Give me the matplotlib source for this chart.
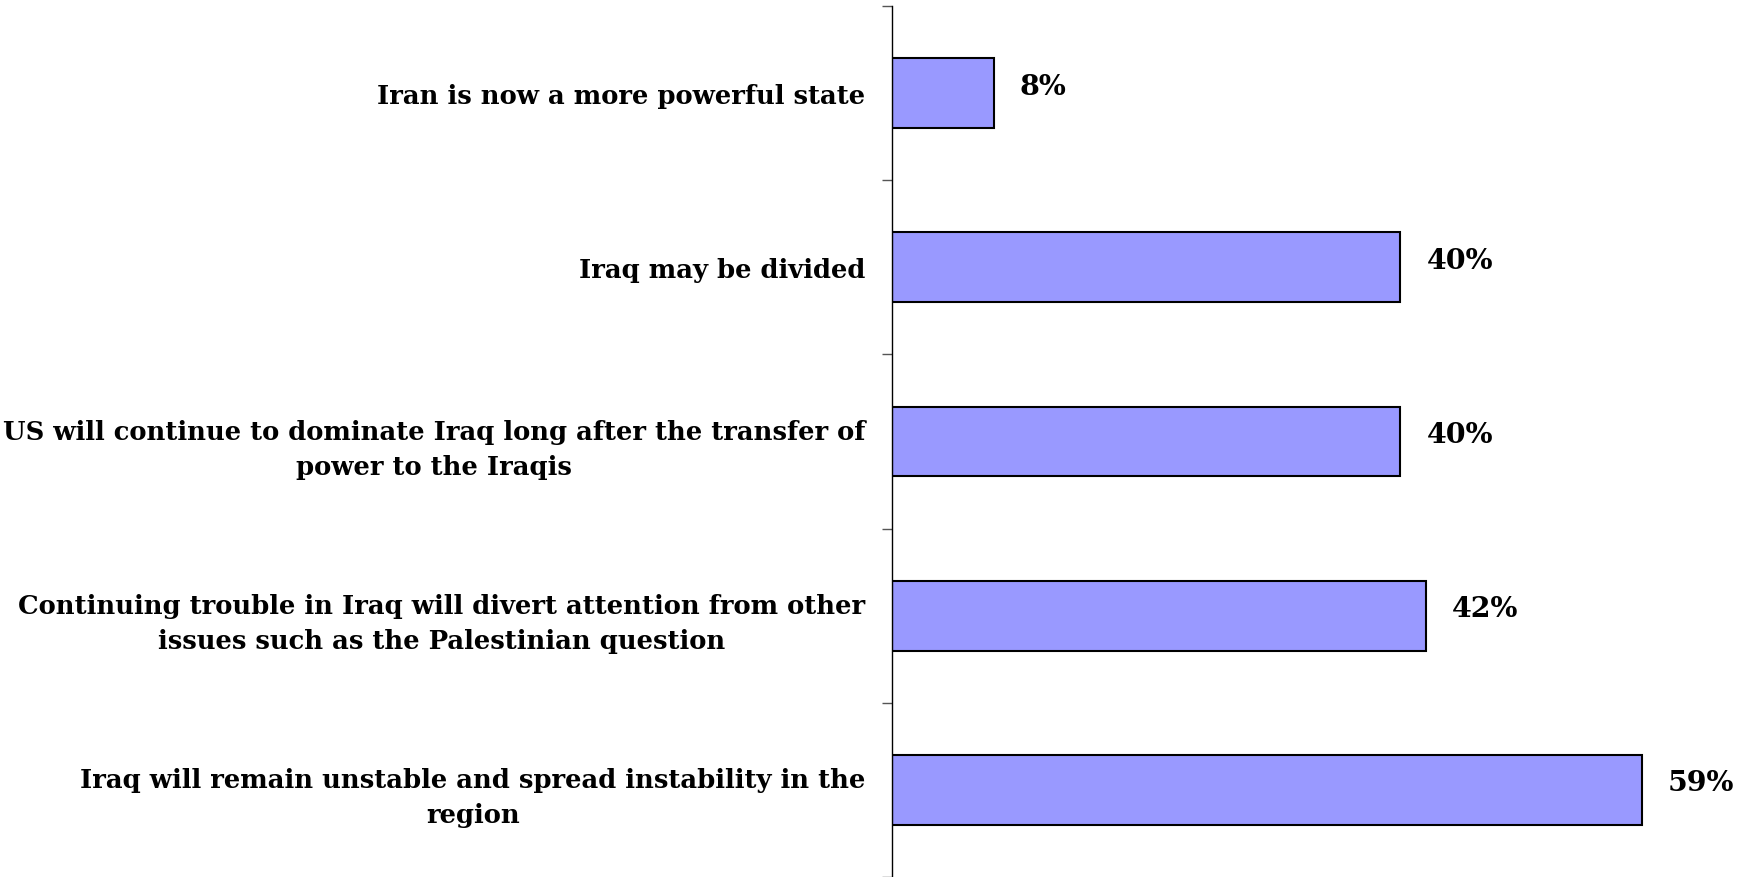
import matplotlib
matplotlib.use('Agg')
import matplotlib.pyplot as plt
import numpy as np

# survey answers, top to bottom as in the chart
labels = [
    'Iran is now a more powerful state',
    'Iraq may be divided',
    'US will continue to dominate Iraq long after the transfer of\npower to the Iraqis',
    'Continuing trouble in Iraq will divert attention from other\nissues such as the Palestinian question',
    'Iraq will remain unstable and spread instability in the\nregion',
]
values = [8, 40, 40, 42, 59]

plt.rcParams['font.family'] = ['DejaVu Serif']
plt.rcParams['font.weight'] = 'bold'

fig = plt.figure(figsize=(17.61, 8.78), dpi=100)
ax = fig.add_axes([0.5065, 0.0, 0.4935, 0.992])

pos = np.arange(len(values))
ax.barh(pos, values, height=0.4, color='#9999ff', edgecolor='black', linewidth=1.5)

for p, v in zip(pos, values):
    ax.annotate(f'{v}%', (v, p), xytext=(19, 5), textcoords='offset points',
                ha='left', va='center', fontsize=20.5, fontweight='bold')

ax.set_xlim(0, 68.4)
ax.set_ylim(len(values) - 0.5, -0.5)

ax.set_yticks(pos)
ax.set_yticklabels(labels, fontsize=18.6, fontweight='bold', multialignment='center',
                   linespacing=1.5)
ax.tick_params(axis='y', which='major', length=0, pad=19)
ax.set_yticks(np.arange(-0.5, len(values), 1.0), minor=True)
ax.tick_params(axis='y', which='minor', length=7, width=1, color='#555555')
ax.set_xticks([])

for s in ['top', 'right', 'bottom']:
    ax.spines[s].set_visible(False)
ax.spines['left'].set_linewidth(1)

fig.savefig('out.png', dpi=100)
